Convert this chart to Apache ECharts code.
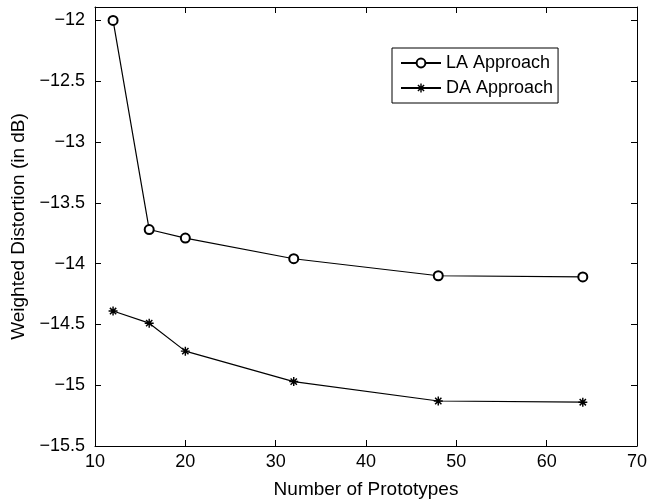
<!DOCTYPE html>
<html>
<head>
<meta charset="utf-8">
<script src="https://cdn.jsdelivr.net/npm/echarts@6/dist/echarts.min.js"></script>
<style>
  html, body { margin: 0; padding: 0; background: #fff; }
  #chart { width: 655px; height: 504px; }
</style>
</head>
<body>
<div id="chart"></div>
<script>
// data
const prototypes = [12, 16, 20, 32, 48, 64];
const laApproach = [-12.0, -13.72, -13.79, -13.96, -14.10, -14.11];
const daApproach = [-14.39, -14.49, -14.72, -14.97, -15.13, -15.14];

const seriesNames = ['LA Approach', 'DA Approach'];
const yTicks = [-15.5, -15, -14.5, -14, -13.5, -13, -12.5, -12];

// filled asterisk (four thin bars) so it also shows up in the legend
const asterisk = 'path://M0 4.2 L10 4.2 L10 5.8 L0 5.8 Z ' +
  'M4.2 0 L5.8 0 L5.8 10 L4.2 10 Z ' +
  'M0.93 2.07 L2.07 0.93 L9.07 7.93 L7.93 9.07 Z ' +
  'M7.93 0.93 L9.07 2.07 L2.07 9.07 L0.93 7.93 Z';
const font = '"Liberation Sans", Arial, sans-serif';

// only label the real ticks, with a proper minus sign
const yLabel = (v) => yTicks.indexOf(+v.toFixed(2)) >= 0 ? String(v).replace('-', '\u2212') : '';

const chart = echarts.init(document.getElementById('chart'));

const tickStyle = { show: true, inside: true, length: 6, lineStyle: { color: '#000', width: 1 } };
const lineAxis = { show: true, lineStyle: { color: '#000', width: 1 } };

const option = {
  backgroundColor: '#fff',
  animation: false,
  grid: { left: 95, right: 18, top: 7, bottom: 56 },
  legend: {
    data: seriesNames,
    orient: 'vertical',
    left: 392,
    top: 48,
    width: 166,
    padding: [6, 5, 6, 8],
    itemGap: 7,
    itemWidth: 40,
    itemHeight: 11,
    borderColor: '#000',
    borderWidth: 1,
    borderRadius: 0,
    backgroundColor: '#fff',
    textStyle: { fontFamily: font, fontSize: 18, color: '#000' }
  },
  xAxis: [
    {
      type: 'value',
      min: 10, max: 70, interval: 10,
      name: 'Number of Prototypes',
      nameLocation: 'middle',
      nameGap: 34,
      nameTextStyle: { fontFamily: font, fontSize: 19, color: '#000' },
      axisLine: lineAxis,
      axisTick: tickStyle,
      axisLabel: { fontFamily: font, fontSize: 18, color: '#000', margin: 7 },
      splitLine: { show: false }
    },
    {
      type: 'value', position: 'top',
      min: 10, max: 70, interval: 10,
      axisLine: lineAxis, axisTick: tickStyle,
      axisLabel: { show: false }, splitLine: { show: false }
    }
  ],
  yAxis: [
    {
      type: 'value',
      min: -15.5, max: -11.89, interval: 0.5,
      name: 'Weighted Distortion (in dB)',
      nameLocation: 'middle',
      nameGap: 52,
      nameTextStyle: { fontFamily: font, fontSize: 19, color: '#000' },
      axisLine: lineAxis,
      axisTick: tickStyle,
      axisLabel: { fontFamily: font, fontSize: 18, color: '#000', margin: 10, formatter: yLabel },
      splitLine: { show: false }
    },
    {
      type: 'value', position: 'right',
      min: -15.5, max: -11.89, interval: 0.5,
      axisLine: lineAxis, axisTick: tickStyle,
      axisLabel: { show: false }, splitLine: { show: false }
    }
  ],
  series: [
    {
      name: seriesNames[0],
      type: 'line',
      data: prototypes.map((x, i) => [x, laApproach[i]]),
      symbol: 'emptyCircle',
      symbolSize: 9,
      lineStyle: { color: '#000', width: 1.2 },
      itemStyle: { color: '#000', borderColor: '#000', borderWidth: 1 }
    },
    {
      name: seriesNames[1],
      type: 'line',
      data: prototypes.map((x, i) => [x, daApproach[i]]),
      symbol: asterisk,
      symbolSize: 9,
      lineStyle: { color: '#000', width: 1.2 },
      itemStyle: { color: '#000', borderWidth: 0 }
    }
  ]
};

chart.setOption(option);
</script>
</body>
</html>
